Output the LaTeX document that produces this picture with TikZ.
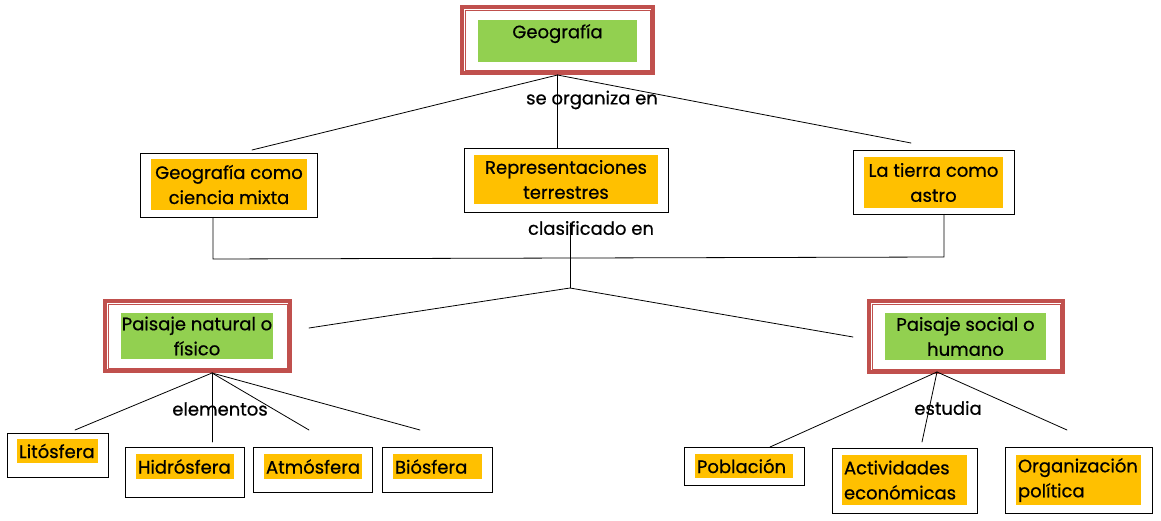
\documentclass[tikz,border=0pt]{standalone}
\usepackage{fontspec}
\setmainfont{Poppins}[FakeBold=0.6]
\usepackage{tikz}
\usetikzlibrary{calc,positioning}

\newcommand\mapfont{\fontsize{18}{25}\selectfont}

\begin{document}
\begin{tikzpicture}[
    x=1pt,y=-1pt,
    line cap=round,
    %styles
    box/.style={draw=black,line width=0.8pt,inner sep=0pt},
    red box/.style={draw=framecolor,line width=4pt,inner sep=0pt},
    green label/.style={fill=greencolor,inner sep=0pt,align=center,font=\mapfont},
    orange label/.style={fill=orangecolor,inner sep=0pt,align=center,font=\mapfont},
    orange left/.style={orange label,align=left,inner xsep=2pt},
    link text/.style={font=\mapfont},
    link/.style={line width=0.8pt},
  ]
  %colors
  \definecolor{framecolor}{RGB}{192,80,77}
  \definecolor{greencolor}{RGB}{146,208,80}
  \definecolor{orangecolor}{RGB}{255,192,0}
  \useasboundingbox (0,0) rectangle (1161,521);

  %top concept
  \node[red box,minimum width=191,minimum height=66] (geo) at (557.5,40) {};
  \node[green label,anchor=north,minimum width=159,text height=18pt,text depth=24pt] (geotext) at (557.5,20) {Geografía};

  %second level
  \node[box,minimum width=177,minimum height=64] (mixta) at (228.5,185) {};
  \node[orange label,minimum width=156,minimum height=51] (mixtatext) at (229,184.5) {Geografía como\\ciencia mixta};
  \node[box,minimum width=204,minimum height=64] (rep) at (566,180) {};
  \node[orange label,minimum width=184,minimum height=49] (reptext) at (566,179.5) {Representaciones\\terrestres};
  \node[box,minimum width=161,minimum height=64] (astro) at (933.5,182) {};
  \node[orange label,minimum width=139,minimum height=51] (astrotext) at (933.5,182.5) {La tierra como\\astro};

  %landscapes
  \node[red box,minimum width=185,minimum height=70] (nat) at (197.5,336) {};
  \node[green label,minimum width=152,minimum height=46] (nattext) at (197,336) {Paisaje natural o\\físico};
  \node[red box,minimum width=194,minimum height=71] (soc) at (966,336.5) {};
  \node[green label,minimum width=161,minimum height=47] (soctext) at (965.5,336.5) {Paisaje social o\\humano};
  \foreach \n in {geo,nat,soc}
  \draw[framecolor,line width=0.8pt] ($(\n.north west)+(5pt,-5pt)$) rectangle ($(\n.south east)+(-5pt,5pt)$);

  %leaves
  \foreach \n/\bx/\by/\bw/\bh/\lx/\ly/\lw/\lh/\t in {
      lito/57.5/455/101/44/57.5/451/81/24/{Litósfera},
      hidro/184.5/472/119/50/185/466.5/98/25/{Hidrósfera},
      atmo/312.5/469.5/119/45/313/466.5/98/25/{Atmósfera},
      bio/437/469.5/110/45/437.5/466.5/89/25/{Biósfera},
      pob/744/466/120/38/744/466/98/24/{Población},
      act/904.5/480.5/145/65/904.5/480/125/50/{Actividades\\económicas},
      org/1078.5/480/147/66/1078.5/480/125/50/{Organización\\política}}
    {
      \node[box,minimum width=\bw,minimum height=\bh] (\n) at (\bx,\by) {};
      \node[orange left,text width=\lw-4,minimum height=\lh] (\n text) at (\lx,\ly) {\t};
    }

  %links
  \coordinate (mixtaend) at (252,150);
  \coordinate (astroend) at (911,143);
  \draw[link] (geo.south) -- (mixtaend);
  \draw[link] (geo.south) -- (geo.south |- rep.north);
  \draw[link] (geo.south) -- (astroend);
  \node[link text] (organiza) at (592,100) {se organiza en};

  \coordinate (joinL) at (213,259);
  \coordinate (joinR) at (944,257);
  \draw[link] (joinL |- mixta.south) -- (joinL) -- (joinR) -- (joinR |- astro.south);

  \coordinate (clastop) at (570,223);
  \coordinate (split) at (570,288);
  \coordinate (natend) at (309,328);
  \coordinate (socend) at (853,337);
  \draw[link] (clastop) -- (split);
  \draw[link] (natend) -- (split) -- (socend);
  \node[link text] (clas) at (591,228) {clasificado en};

  \coordinate (natfoot) at (212,373);
  \coordinate (litoend) at (75,430);
  \coordinate (hidroend) at (212,442);
  \coordinate (atmoend) at (309,430);
  \coordinate (bioend) at (420,430);
  \foreach \p in {litoend,hidroend,atmoend,bioend}
  \draw[link] (natfoot) -- (\p);
  \node[link text] (elem) at (220,409) {elementos};

  \coordinate (socfoot) at (937,372);
  \coordinate (pobend) at (770,447);
  \coordinate (actend) at (922,442);
  \coordinate (orgend) at (1067,430);
  \foreach \p in {pobend,actend,orgend}
  \draw[link] (socfoot) -- (\p);
  \node[link text] (estudia) at (948,408) {estudia};
\end{tikzpicture}
\end{document}
